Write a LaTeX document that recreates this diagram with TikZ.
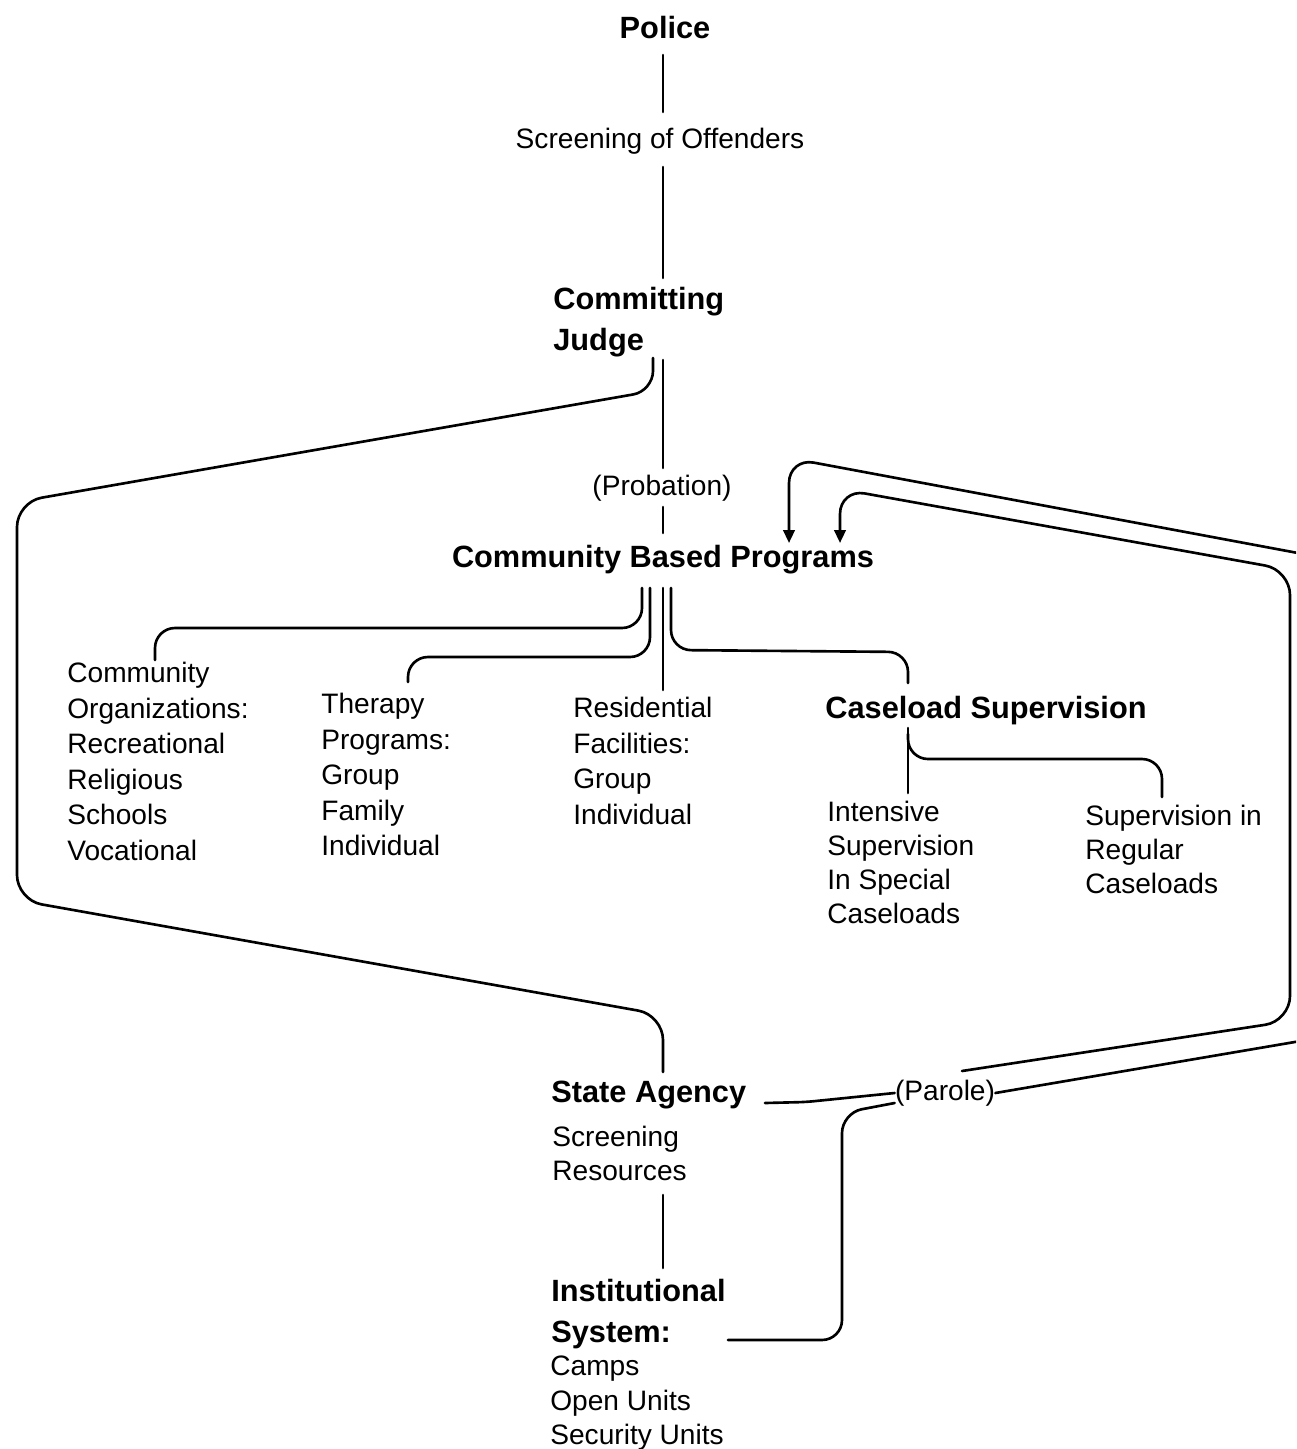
\documentclass[tikz,border=0pt]{standalone}
\usepackage{fontspec}
\setmainfont{Liberation Sans}
\usetikzlibrary{arrows.meta}
\begin{document}
\begin{tikzpicture}[x=0.02cm,y=-0.02cm,
  reg/.style={font=\fontsize{16}{20.2}\selectfont, inner sep=0pt, align=left},
  regt/.style={font=\fontsize{16}{19.4}\selectfont, inner sep=0pt, align=left},
  bhead/.style={font=\fontsize{17.5}{23}\selectfont\bfseries, inner sep=0pt, align=left},
  conn/.style={line width=1.5pt, rounded corners=0.4cm, line cap=round},
  bigr/.style={rounded corners=0.5cm},
  smallr/.style={rounded corners=0.15cm},
  arr/.style={-{Triangle[length=2.6mm,width=2.3mm]}}]
\useasboundingbox (0,0) rectangle (1296,1449);
\clip (0,0) rectangle (1296,1449);
\fill[white] (0,0) rectangle (1296,1449);

% ---------- text nodes ----------
\node[bhead] (police) at (665,28) {Police};
\node[reg] (screen) at (660,141) {Screening of Offenders};
\node[bhead, anchor=north west] (judge) at (553,287) {Committing\\Judge};
\node[reg] (prob) at (662,488) {(Probation)};
\node[bhead] (cbp) at (663,560) {Community Based Programs};
\node[reg, anchor=north west] (corg) at (67,662) {Community\\Organizations:\\Recreational\\Religious\\Schools\\Vocational};
\node[reg, anchor=north west] (ther) at (321,693) {Therapy\\Programs:\\Group\\Family\\Individual};
\node[reg, anchor=north west] (resi) at (573,697) {Residential\\Facilities:\\Group\\Individual};
\node[bhead, anchor=north west] (case) at (825,696) {Caseload Supervision};
\node[regt, anchor=north west] (inten) at (827,801) {Intensive\\Supervision\\In Special\\Caseloads};
\node[regt, anchor=north west] (regul) at (1085,805) {Supervision in\\Regular\\Caseloads};
\node[bhead, anchor=north west] (state) at (551,1081) {State Agency};
\node[regt, anchor=north west] (sres) at (552,1126) {Screening\\Resources};
\node[bhead, anchor=north west] (inst) at (551,1279) {Institutional\\System:};
\node[regt, anchor=north west] (camps) at (550,1356) {Camps\\Open Units\\Security Units};
\node[reg] (parole) at (945,1093) {(Parole)};

% ---------- connector points ----------
\coordinate (pa) at (663,55);   \coordinate (pb) at (663,112);
\coordinate (sa) at (663,167);  \coordinate (sb) at (663,278);
\coordinate (ja) at (663,360);  \coordinate (jb) at (663,468);
\coordinate (qa) at (663,507);  \coordinate (qb) at (663,533);
\coordinate (jl) at (653,358);
\coordinate (sat) at (663,1072);
\coordinate (c1) at (642,588); \coordinate (c1e) at (155,660);
\coordinate (c2) at (650,588); \coordinate (c2e) at (408,682);
\coordinate (c3) at (663,588); \coordinate (c3e) at (663,690);
\coordinate (c4) at (671,588); \coordinate (c4e) at (908,683);
\coordinate (k1) at (908,728); \coordinate (k1e) at (908,793);
\coordinate (k2) at (908,734); \coordinate (k2e) at (1162,797);
\coordinate (ra) at (663,1195); \coordinate (rb) at (663,1268);
\coordinate (sag) at (765,1103);
\coordinate (ins) at (728,1340);
\coordinate (arrA) at (789,543);
\coordinate (arrB) at (840,543);
\coordinate (upl) at (962,1071);

% ---------- vertical spine ----------
\draw[conn] (pa) -- (pb);
\draw[conn] (sa) -- (sb);
\draw[conn] (ja) -- (jb);
\draw[conn] (qa) -- (qb);
\draw[conn] (ra) -- (rb);

% ---------- left loop: judge to state agency ----------
\draw[conn] (jl) -- (653,391) [bigr]-- (17,502) -- (17,900) -- (663,1015) -- (sat);

% ---------- community based program branches ----------
\draw[conn] (c1) -- (642,628) -- (155,628) -- (c1e);
\draw[conn] (c2) -- (650,657) -- (408,657) -- (c2e);
\draw[conn] (c3) -- (c3e);
\draw[conn] (c4) -- (671,650) -- (908,652) -- (c4e);

% ---------- caseload branches ----------
\draw[conn] (k1) -- (k1e);
\draw[conn] (k2) -- (908,759) -- (1162,759) -- (k2e);

% ---------- parole connections ----------
\draw[conn, smallr] (sag) -- (806,1102) -- (parole.west);
\draw[conn, arr, bigr] (parole.east) -- (1330,1036) -- (1330,559) -- (789,458) -- (arrA);
\draw[conn] (ins) -- (842,1340) -- (842,1113) -- ([yshift=-0.2cm]parole.west);
\draw[conn, arr, bigr] (upl) -- (1290,1021) -- (1290,570) -- (840,489) -- (arrB);
\end{tikzpicture}
\end{document}
